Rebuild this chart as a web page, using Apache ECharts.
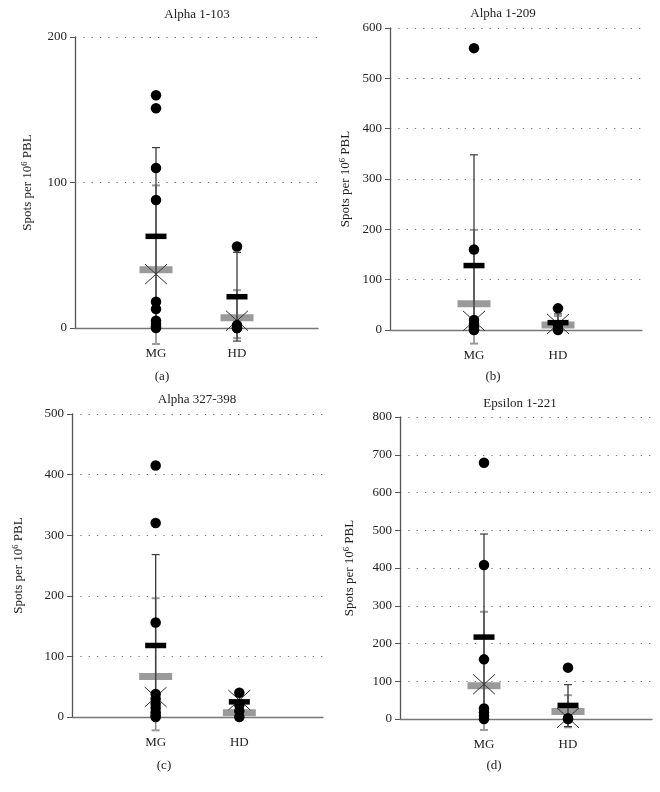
<!DOCTYPE html>
<html>
<head>
<meta charset="utf-8">
<script src="https://cdn.jsdelivr.net/npm/echarts@6/dist/echarts.min.js"></script>
<style>html,body{margin:0;padding:0;background:#fff}#c{width:660px;height:792px}</style>
</head>
<body>
<div id="c"></div>
<script>
// ---- data ----
const panelTitles = ['Alpha 1-103', 'Alpha 1-209', 'Alpha 327-398', 'Epsilon 1-221'];
const panelTags = ['(a)', '(b)', '(c)', '(d)'];
const categories = ['', 'MG', 'HD', ''];
const yMax = [200, 600, 500, 800];
const yStep = [100, 100, 100, 100];

// individual points
const mgDotsA = [160, 151, 110, 88, 18, 13, 5, 3, 1, 0];
const hdDotsA = [56, 2, 0, 0];
const mgDotsB = [560, 160, 20, 12, 5, 1, 0];
const hdDotsB = [43, 10, 2, 0];
const mgDotsC = [415, 320, 156, 38, 30, 22, 15, 8, 3, 0];
const hdDotsC = [40, 20, 10, 0];
const mgDotsD = [679, 408, 158, 28, 17, 8, 0];
const hdDotsD = [136, 2, 0];

// stats: [mean, meanLow, meanHigh, median, medLow, medHigh, xMarker]
const mgStatsA = [63, 2, 124, 40, -11, 98, 37];
const hdStatsA = [21.5, -9, 52, 7, -7, 26, 5];
const mgStatsB = [128, 0, 348, 52, -27, 199, 18];
const hdStatsB = [14.6, -3, 32, 10, -5, 28, 12];
const mgStatsC = [118, 0, 268, 67, -22, 196, 33];
const hdStatsC = [25, 12, 38, 7, -5, 20, 28];
const mgStatsD = [217, 0, 490, 88, -29, 284, 92];
const hdStatsD = [36, -20, 91, 20, -22, 63, 3];

const dots = [[mgDotsA, hdDotsA], [mgDotsB, hdDotsB], [mgDotsC, hdDotsC], [mgDotsD, hdDotsD]];
const stats = [[mgStatsA, hdStatsA], [mgStatsB, hdStatsB], [mgStatsC, hdStatsC], [mgStatsD, hdStatsD]];

// ---- layout ----
const grids = [
  {left: 75, top: 37, width: 243, height: 291},
  {left: 390, top: 28, width: 252, height: 302},
  {left: 72, top: 414, width: 251, height: 303},
  {left: 400, top: 417, width: 252, height: 302}
];
const nameGaps = [40, 37, 46, 43];
const titlePos = [[197, 15], [503, 14], [197, 400], [520, 404]];
const tagPos = [[162, 377], [493, 377], [164, 766], [494, 766]];
const FONT = '"Liberation Serif", "DejaVu Serif", serif';

function renderStats(params, api) {
  const cx = api.value(0);
  const c = v => api.coord([cx, v]);
  const pMean = c(api.value(1)), pML = c(api.value(2)), pMH = c(api.value(3));
  const pMed = c(api.value(4)), pDL = c(api.value(5)), pDH = c(api.value(6));
  const pX = c(api.value(7));
  const x = pMean[0];
  const ch = [];
  ch.push({type: 'rect', shape: {x: x - 16.5, y: pMed[1] - 3.5, width: 33, height: 7}, style: {fill: '#9a9a9a'}});
  ch.push({type: 'line', shape: {x1: x, y1: pDL[1], x2: x, y2: pDH[1]}, style: {stroke: '#8c8c8c', lineWidth: 1.6}});
  ch.push({type: 'line', shape: {x1: x - 4, y1: pDL[1], x2: x + 4, y2: pDL[1]}, style: {stroke: '#9a9a9a', lineWidth: 2}});
  ch.push({type: 'line', shape: {x1: x - 4, y1: pDH[1], x2: x + 4, y2: pDH[1]}, style: {stroke: '#9a9a9a', lineWidth: 2}});
  ch.push({type: 'line', shape: {x1: x, y1: pML[1], x2: x, y2: pMH[1]}, style: {stroke: '#3a3a3a', lineWidth: 1.3}});
  ch.push({type: 'line', shape: {x1: x - 4, y1: pML[1], x2: x + 4, y2: pML[1]}, style: {stroke: '#3a3a3a', lineWidth: 1.2}});
  ch.push({type: 'line', shape: {x1: x - 4, y1: pMH[1], x2: x + 4, y2: pMH[1]}, style: {stroke: '#3a3a3a', lineWidth: 1.2}});
  ch.push({type: 'line', shape: {x1: x - 11, y1: pX[1] - 10, x2: x + 11, y2: pX[1] + 10}, style: {stroke: '#333', lineWidth: 1}});
  ch.push({type: 'line', shape: {x1: x - 11, y1: pX[1] + 10, x2: x + 11, y2: pX[1] - 10}, style: {stroke: '#333', lineWidth: 1}});
  ch.push({type: 'rect', shape: {x: x - 10.5, y: pMean[1] - 2.75, width: 21, height: 5.5}, style: {fill: '#000'}});
  return {type: 'group', children: ch};
}

const option = {
  animation: false,
  backgroundColor: '#fff',
  grid: grids,
  xAxis: grids.map((g, i) => ({
    type: 'category', gridIndex: i, data: categories, boundaryGap: false,
    axisLine: {lineStyle: {color: '#777', width: 1.3}},
    axisTick: {show: false},
    axisLabel: {color: '#222', fontFamily: FONT, fontSize: 13, margin: 19, interval: 0},
    splitLine: {show: false}
  })),
  yAxis: grids.map((g, i) => ({
    type: 'value', gridIndex: i, min: 0, max: yMax[i], interval: yStep[i],
    name: 'Spots per 10{sup|6} PBL', nameLocation: 'middle', nameGap: nameGaps[i],
    nameTextStyle: {color: '#222', fontFamily: FONT, fontSize: 13, fontWeight: 'normal', lineHeight: 15,
      rich: {sup: {fontFamily: FONT, fontSize: 8.5, fontWeight: 'normal', verticalAlign: 'top', lineHeight: 15, color: '#222'}}},
    axisLine: {show: true, lineStyle: {color: '#555', width: 1.3}},
    axisTick: {show: true, length: 5, lineStyle: {color: '#555'}},
    axisLabel: {color: '#222', fontFamily: FONT, fontSize: 13, margin: 8},
    splitLine: {show: true, lineStyle: {color: '#777', width: 1, type: [1.3, 7]}}
  })),
  series: [],
  graphic: []
};

for (let i = 0; i < 4; i++) {
  option.series.push({
    type: 'custom', xAxisIndex: i, yAxisIndex: i, clip: false, z: 3,
    renderItem: renderStats,
    data: [[1].concat(stats[i][0]), [2].concat(stats[i][1])]
  });
  const pts = [];
  dots[i][0].forEach(v => pts.push([1, v]));
  dots[i][1].forEach(v => pts.push([2, v]));
  option.series.push({
    type: 'scatter', xAxisIndex: i, yAxisIndex: i, clip: false, z: 5,
    symbol: 'circle', symbolSize: 10.5, itemStyle: {color: '#000', opacity: 1}, data: pts
  });
  option.graphic.push({type: 'text', x: titlePos[i][0], y: titlePos[i][1],
    style: {text: panelTitles[i], fill: '#222', font: '13px ' + FONT, textAlign: 'center', textVerticalAlign: 'middle'}});
  option.graphic.push({type: 'text', x: tagPos[i][0], y: tagPos[i][1],
    style: {text: panelTags[i], fill: '#222', font: '13px ' + FONT, textAlign: 'center', textVerticalAlign: 'middle'}});
}

const chart = echarts.init(document.getElementById('c'), null, {renderer: 'canvas'});
chart.setOption(option);
</script>
</body>
</html>
